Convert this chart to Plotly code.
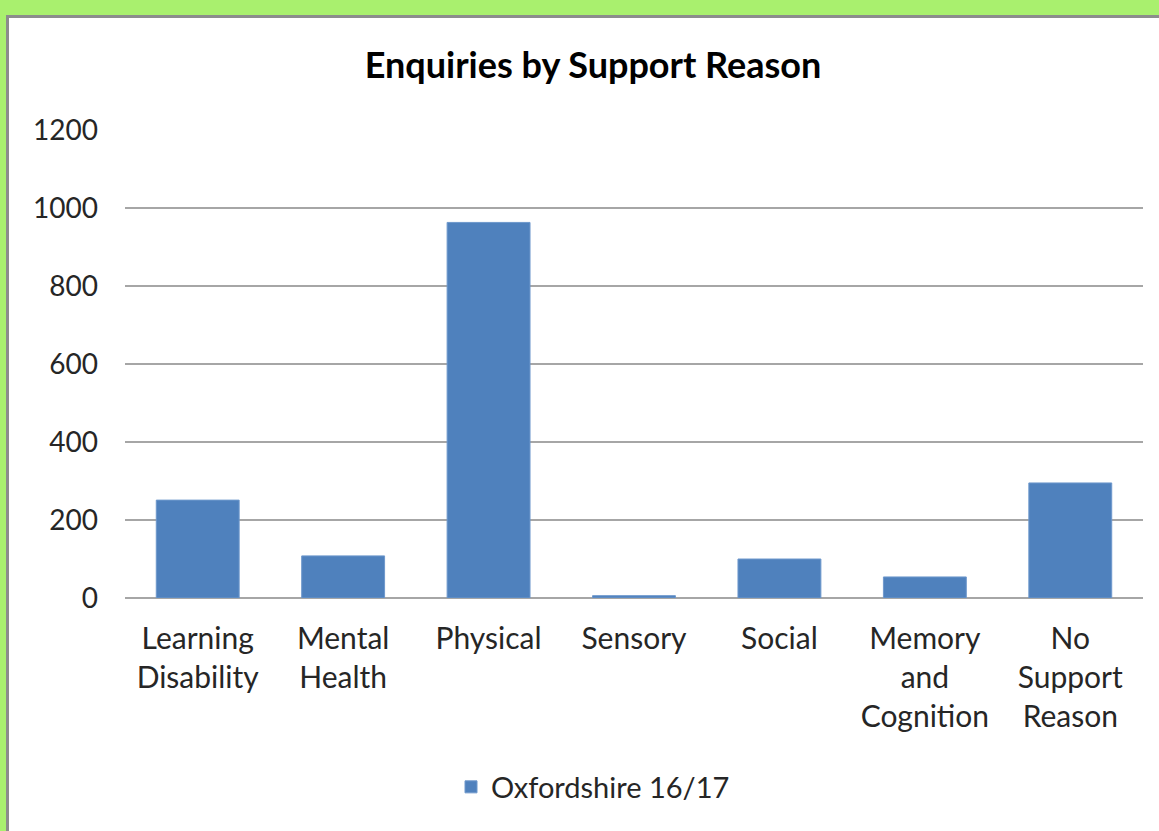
import plotly.graph_objects as go

categories = ['Learning<br>Disability', 'Mental<br>Health', 'Physical', 'Sensory',
              'Social', 'Memory<br>and<br>Cognition', 'No<br>Support<br>Reason']
enquiries = [251, 108, 963, 6, 100, 54, 295]
series_name = 'Oxfordshire 16/17'
y_ticks = [0, 200, 400, 600, 800, 1000, 1200]

# pixel geometry of the plot area
L, R, T, B = 125, 1143, 130, 598
W, H = 1159, 831


def px_x(p):
    return (p - L) / (R - L)


def px_y(p):
    return (B - p) / (B - T)


fig = go.Figure(go.Bar(
    name=series_name,
    x=categories,
    y=enquiries,
    marker=dict(color='#4f81bd', line=dict(color='#6e98cc', width=1)),
    showlegend=True,
))

fig.update_layout(
    width=W, height=H,
    margin=dict(l=L, r=W - R, t=T, b=H - B, autoexpand=False),
    paper_bgcolor='#a9f06e',
    plot_bgcolor='rgba(0,0,0,0)',
    font=dict(family='Lato', size=29, color='#262626'),
    title=dict(text='<b>Enquiries by Support Reason</b>', x=px_x(593), xref='paper',
               xanchor='center', y=1 - 65 / H, yanchor='middle',
               font=dict(family='Lato', size=36, color='#000000')),
    bargap=0.43,
    shapes=[dict(type='rect', xref='paper', yref='paper', layer='below',
                 x0=px_x(7.5), x1=px_x(1175), y0=px_y(16.5), y1=px_y(850),
                 fillcolor='white', line=dict(color='#8c8c8c', width=3))],
    legend=dict(orientation='h', x=px_x(593), xanchor='center', y=px_y(787),
                yanchor='middle', font=dict(size=29), bgcolor='rgba(0,0,0,0)'),
)

fig.update_xaxes(showgrid=False, showline=False, ticks='', ticklabelstandoff=20,
                 tickfont=dict(size=30))
fig.update_yaxes(range=[0, 1200], tickvals=y_ticks, showgrid=True, gridcolor='#a6a6a6',
                 gridwidth=2, zeroline=True, zerolinecolor='#a6a6a6', zerolinewidth=2,
                 showline=False, ticks='', ticklabelstandoff=26, tickfont=dict(size=28))

# the page has a default 8px body margin; remove it so the figure sits at 0,0
fig.write_html('out.html', config={'displayModeBar': False},
               post_script="document.body.style.margin='0';"
                           "document.body.style.overflow='hidden';")
